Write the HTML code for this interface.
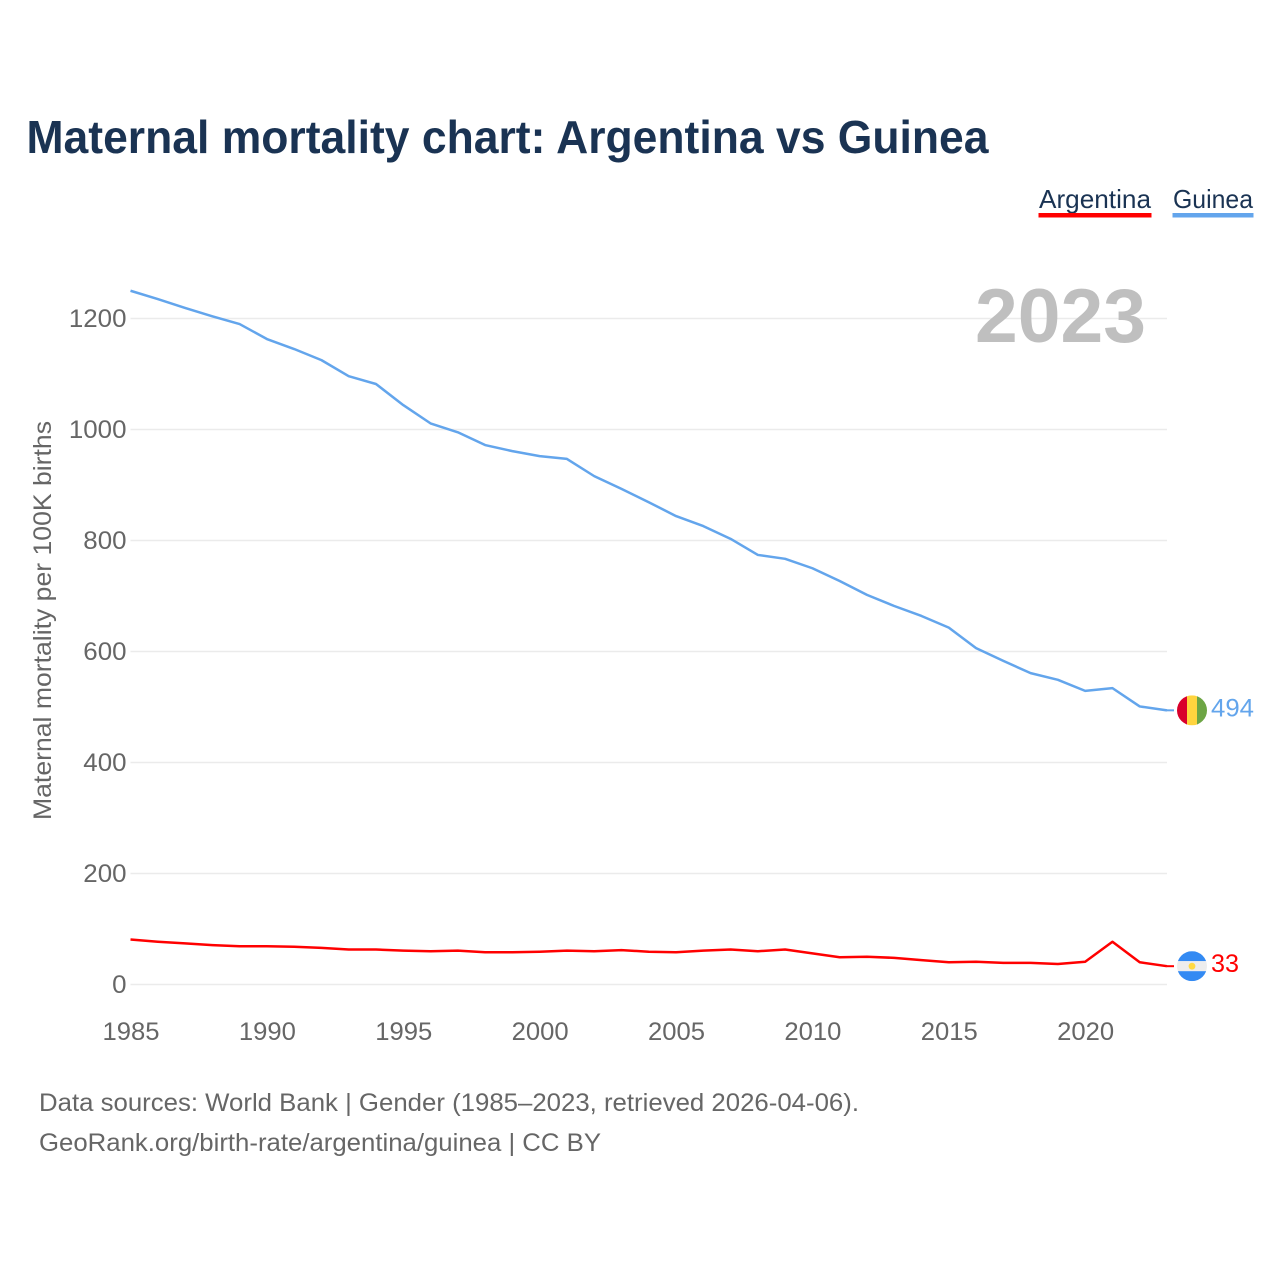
<!DOCTYPE html>
<html lang="en">
<head>
<meta charset="utf-8">
<title>Maternal mortality chart: Argentina vs Guinea</title>
<style>
html,body{margin:0;padding:0;background:#fff;}
svg{display:block;font-family:"Liberation Sans",sans-serif;}
</style>
</head>
<body>
<svg id="chart" width="1280" height="1280" viewBox="0 0 1280 1280" xmlns="http://www.w3.org/2000/svg">
  <rect width="1280" height="1280" fill="#ffffff"/>
  <text x="26.5" y="153" font-size="46" font-weight="700" fill="#1a3353" textLength="962" lengthAdjust="spacingAndGlyphs">Maternal mortality chart: Argentina vs Guinea</text>

  <g>
    <text x="1039" y="208" font-size="26" fill="#1a3353" textLength="112" lengthAdjust="spacingAndGlyphs">Argentina</text>
    <rect x="1038.5" y="213" width="113" height="4.5" fill="#ff0000"/>
  </g>
  <g>
    <text x="1173" y="208" font-size="26" fill="#1a3353" textLength="80" lengthAdjust="spacingAndGlyphs">Guinea</text>
    <rect x="1172.5" y="213" width="81" height="4.5" fill="#63a5ec"/>
  </g>

  <g id="grid"></g>
  <g id="y-ticks"></g>
  <g id="x-ticks"></g>

  <text x="975" y="342" font-size="76" font-weight="700" fill="#bfbfbf" textLength="171" lengthAdjust="spacingAndGlyphs">2023</text>

  <text transform="translate(51,820) rotate(-90)" x="0" y="0" font-size="25" fill="#666666" textLength="399" lengthAdjust="spacingAndGlyphs">Maternal mortality per 100K births</text>

  <path id="line-guinea" fill="none" stroke="#63a5ec" stroke-width="2.5" stroke-linejoin="round"/>
  <path id="line-argentina" fill="none" stroke="#ff0000" stroke-width="2.5" stroke-linejoin="round"/>
  <path id="leader-guinea" fill="none" stroke="#63a5ec" stroke-width="2"/>
  <path id="leader-argentina" fill="none" stroke="#ff0000" stroke-width="2"/>

  <defs>
    <clipPath id="clip-flag"><circle cx="0" cy="0" r="15"/></clipPath>
  </defs>
  <g id="flag-guinea">
    <g clip-path="url(#clip-flag)">
      <rect x="-15" y="-15" width="10" height="30" fill="#d9002b"/>
      <rect x="-5" y="-15" width="10" height="30" fill="#ffd43e"/>
      <rect x="5" y="-15" width="10" height="30" fill="#6da544"/>
    </g>
  </g>
  <g id="flag-argentina">
    <g clip-path="url(#clip-flag)">
      <rect x="-15" y="-15" width="30" height="10" fill="#338af3"/>
      <rect x="-15" y="-5" width="30" height="10" fill="#ededed"/>
      <rect x="-15" y="5" width="30" height="10" fill="#338af3"/>
      <circle cx="0" cy="0" r="3.4" fill="#ffda44"/>
    </g>
  </g>

  <text id="value-guinea" x="1211" font-size="25" fill="#63a5ec" textLength="43" lengthAdjust="spacingAndGlyphs"></text>
  <text id="value-argentina" x="1211" font-size="25" fill="#ff0000" textLength="28" lengthAdjust="spacingAndGlyphs"></text>

  <text x="39" y="1111" font-size="25" fill="#666666" textLength="820" lengthAdjust="spacingAndGlyphs">Data sources: World Bank | Gender (1985–2023, retrieved 2026-04-06).</text>
  <text x="39" y="1151" font-size="25" fill="#666666" textLength="562" lengthAdjust="spacingAndGlyphs">GeoRank.org/birth-rate/argentina/guinea | CC BY</text>
</svg>
<script>
const years = [1985,1986,1987,1988,1989,1990,1991,1992,1993,1994,1995,1996,1997,1998,1999,2000,2001,2002,2003,2004,2005,2006,2007,2008,2009,2010,2011,2012,2013,2014,2015,2016,2017,2018,2019,2020,2021,2022,2023];
const guinea = [1250,1235,1219,1204,1190,1163,1145,1125,1096,1082,1044,1011,995,972,961,952,947,916,893,869,844,826,803,774,767,750,727,702,682,664,643,606,583,561,549,529,534,501,494];
const argentina = [81,77,74,71,69,69,68,66,63,63,61,60,61,58,58,59,61,60,62,59,58,61,63,60,63,56,49,50,48,44,40,41,39,39,37,41,77,40,33];
const yTickValues = [0,200,400,600,800,1000,1200];
const xTickValues = [1985,1990,1995,2000,2005,2010,2015,2020];

const NS = 'http://www.w3.org/2000/svg';
function xScale(year) { return 130.5 + (year - 1985) * (1167 - 130.5) / 38; }
function yScale(value) { return 984.5 - value * 0.555; }
function linePath(series) {
  return series.map(function (v, i) {
    return (i ? 'L' : 'M') + xScale(years[i]).toFixed(2) + ' ' + yScale(v).toFixed(2);
  }).join('');
}

const gridGroup = document.getElementById('grid');
const yGroup = document.getElementById('y-ticks');
const xGroup = document.getElementById('x-ticks');

yTickValues.forEach(function (v) {
  const line = document.createElementNS(NS, 'line');
  
  
  line.setAttribute('x1', xScale(1985));
  line.setAttribute('x2', xScale(2023));
  line.setAttribute('y1', yScale(v));
  line.setAttribute('y2', yScale(v));
  line.setAttribute('stroke', '#ebebeb');
  line.setAttribute('stroke-width', '1.5');
  gridGroup.appendChild(line);

  const label = document.createElementNS(NS, 'text');
  
  
  const str = String(v);
  const w = str.length * 14.4;
  label.setAttribute('x', 126.5 - w);
  label.setAttribute('y', yScale(v) + 8.5);
  label.setAttribute('font-size', '25');
  label.setAttribute('fill', '#666666');
  label.setAttribute('textLength', w);
  label.setAttribute('lengthAdjust', 'spacingAndGlyphs');
  label.textContent = str;
  yGroup.appendChild(label);
});

xTickValues.forEach(function (y) {
  const label = document.createElementNS(NS, 'text');
  
  
  label.setAttribute('x', xScale(y) - 28);
  label.setAttribute('y', 1040);
  label.setAttribute('font-size', '25');
  label.setAttribute('fill', '#666666');
  label.setAttribute('textLength', '57');
  label.setAttribute('lengthAdjust', 'spacingAndGlyphs');
  label.textContent = String(y);
  xGroup.appendChild(label);
});

function drawSeries(name, series) {
  const last = series[series.length - 1];
  const endY = yScale(last);
  document.getElementById('line-' + name).setAttribute('d', linePath(series));
  document.getElementById('leader-' + name).setAttribute('d', 'M' + xScale(2023) + ' ' + endY + 'L1174 ' + endY);
  document.getElementById('flag-' + name).setAttribute('transform', 'translate(1192,' + endY + ')');
  const val = document.getElementById('value-' + name);
  val.setAttribute('y', endY + 6);
  val.textContent = String(last);
}
drawSeries('guinea', guinea);
drawSeries('argentina', argentina);
</script>
</body>
</html>
